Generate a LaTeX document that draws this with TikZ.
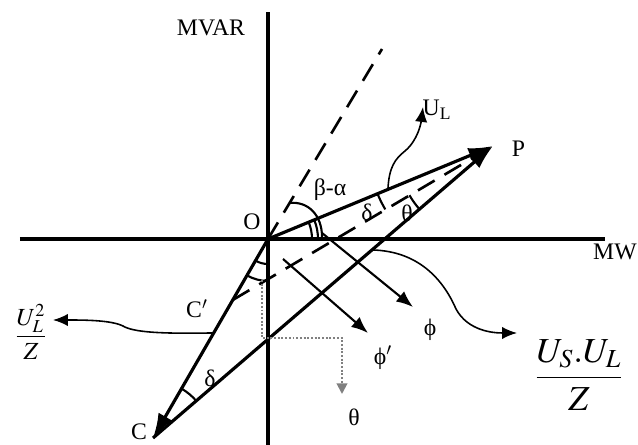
\documentclass[tikz,border=0pt]{standalone}
\usepackage{amsmath}
\usepackage{mathptmx}
\usepackage{fontspec}
\setmainfont{Liberation Serif}
\usetikzlibrary{arrows.meta,calc}

\newcommand*{\xmin}{-248}
\newcommand*{\xmax}{337}
\newcommand*{\ymin}{-206}
\newcommand*{\ymax}{227}

\begin{document}
\begin{tikzpicture}
[
	x=0.02cm, y=0.02cm,
	axis/.style={line width=2pt},
	vec/.style={line width=1.8pt,-{Latex[length=14pt,width=9pt]}},
	guide/.style={line width=1.5pt,dash pattern=on 11pt off 6.5pt},
	pointer/.style={line width=0.9pt,-{Latex[length=8.5pt,width=7pt]}},
	phiarrow/.style={line width=1.2pt,-{Latex[length=9.5pt,width=7.5pt]}},
	anglearc/.style={line width=1.2pt},
	lbl/.style={font=\fontsize{13.5}{16}\selectfont,inner sep=0pt}
]

	\useasboundingbox (-268,-206) rectangle (370,239);

	% points
	\coordinate (O) at (0,0);
	\coordinate (P) at (225,93);
	\coordinate (C) at (-115,-199);
	\coordinate (Cp) at ($(O)!0.3065!(C)$);
	\coordinate (D) at (114,190);

	% axes
	\draw[axis] (\xmin,0) -- (\xmax,0);
	\draw[axis] (0,\ymin) -- (0,\ymax);
	\node[lbl] (mvar) at (-57,211) {MVAR};
	\node[lbl,anchor=east] (mw) at (369,-13) {MW};

	% vectors
	\draw[vec] (O) -- (C);
	\draw[vec] (O) -- (P);
	\draw[vec] (C) -- (P);
	\draw[guide] (O) -- (D);
	\draw[guide] (Cp) -- (P);

	% angles
	\draw[anglearc] (21.6,36) .. controls (40,38) and (54,24) .. (54,2);
	\draw[anglearc] (44,0) arc (0:22.5:44);
	\draw[anglearc] (50,0) arc (0:22.5:50);
	\draw[anglearc] ([shift={(240:25)}]O) arc (240:270:25);
	\draw[anglearc] ([shift={(240:42)}]O) arc (240:270:42);
	\draw[anglearc] ([shift={(40.65:57)}]C) arc (40.65:60:57);
	\draw[anglearc] ([shift={(202.5:125)}]P) arc (202.5:210.5:125);
	\draw[anglearc] ([shift={(210.5:97)}]P) arc (210.5:220.65:97);

	% dotted projection
	\draw[gray,densely dotted,line width=1.1pt,-{Triangle[length=6pt,width=6pt]}]
		(-6,-41) -- (-6,-99) -- (74,-99) -- (74,-155);

	% pointers
	\coordinate (ul0) at ($(O)!0.533!(P)$);
	\coordinate (ul1) at (155,132);
	\draw[pointer] (ul0) .. controls (121,72) and (127,80) .. (137,88)
		.. controls (150,99) and (153,116) .. (ul1);

	\coordinate (cs0) at ($(O)!0.472!(C)$);
	\coordinate (cs1) at (-215,-81);
	\draw[pointer] (cs0) .. controls (-110,-95) and (-135,-93) .. (-145,-87)
		.. controls (-157,-81) and (-185,-81) .. (cs1);

	\coordinate (us0) at ($(C)!0.644!(P)$);
	\coordinate (us1) at (249,-94);
	\draw[pointer] (us0) .. controls (150,-12) and (175,-40) .. (188,-70)
		.. controls (200,-92) and (225,-94) .. (us1);

	% phi arrows
	\coordinate (ph0) at (54,6);
	\coordinate (ph1) at (145,-68);
	\coordinate (pq0) at (15,-20);
	\coordinate (pq1) at (100,-94);
	\draw[phiarrow] (ph0) -- (ph1);
	\draw[phiarrow] (pq0) -- (pq1);

	% labels
	\node[lbl] (o) at (-16,17.5) {O};
	\node[lbl] (p) at (250.5,90.5) {P};
	\node[lbl] (c) at (-129,-193) {C};
	\node[lbl] (cl) at (-71,-70) {C$'$};
	\node[lbl] (ul) at (169,129) {U\textsubscript{L}};
	\node[lbl] (ba) at (62,49) {β-α};
	\node[lbl] (deltap) at (99,27) {δ};
	\node[lbl] (thetap) at (139,26) {θ};
	\node[lbl] (deltac) at (-58,-139) {δ};
	\node[lbl] (phi) at (162,-91) {ϕ};
	\node[lbl] (phip) at (115,-119) {ϕ$'$};
	\node[lbl] (theta) at (86,-178.5) {θ};
	\node[font=\fontsize{14}{17}\selectfont] (frac1) at (-237,-93) {$\dfrac{U_L^2}{Z}$};
	\node[font=\fontsize{20}{24}\selectfont] (frac2) at (311,-136) {$\dfrac{U_S.U_L}{Z}$};

\end{tikzpicture}
\end{document}
